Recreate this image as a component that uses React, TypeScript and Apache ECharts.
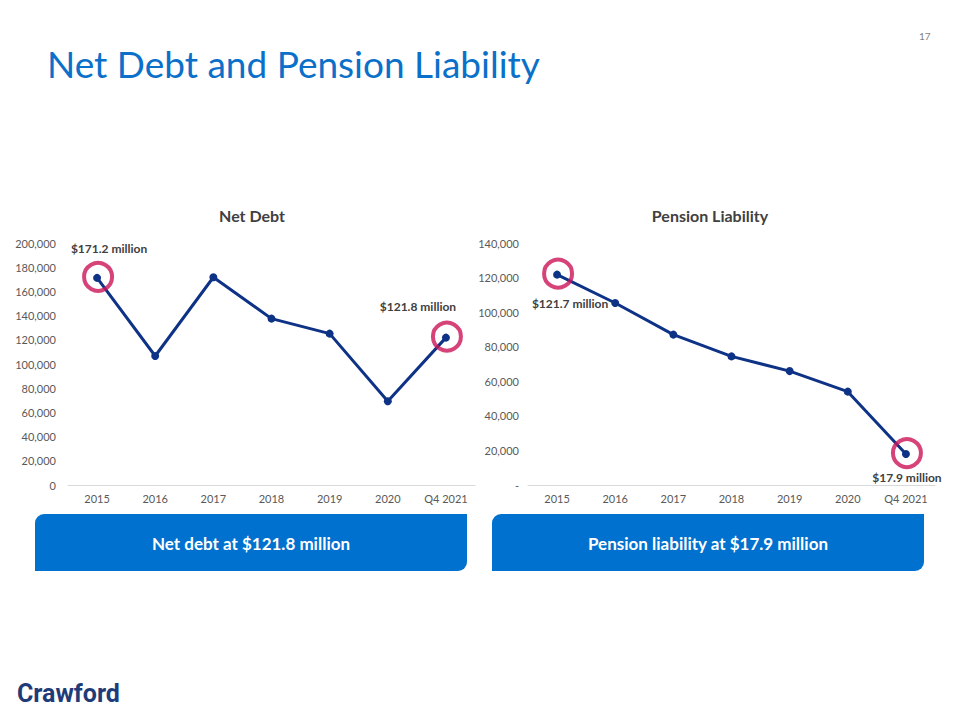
import React, { useEffect, useRef } from "react";
import * as echarts from "echarts";

// Fiscal periods shared by both panels
const periods = ["2015", "2016", "2017", "2018", "2019", "2020", "Q4 2021"];

// Net debt, USD thousands
const netDebt = [171200, 106600, 171700, 137500, 125100, 69200, 121800];

// Pension liability, USD thousands
const pension = [121700, 105300, 87000, 74400, 65900, 54000, 17900];

// Highlighted periods (indexes) with their callouts
const netDebtHighlights = [0, 6];
const pensionHighlights = [0, 6];

const netDebtTicks = { min: 0, max: 200000, interval: 20000 };
const pensionTicks = { min: 0, max: 140000, interval: 20000 };

const TEXT_FONT = "Lato, 'Open Sans', sans-serif";
const LINE_COLOR = "#0E3386";
const RING_COLOR = "#CC1458";
const LABEL_COLOR = "#404040";
const AXIS_TEXT = "#595959";
const BOX_COLOR = "#0071CE";

const money = (v: number) => `$${(v / 1000).toFixed(1)} million`;
const thousands = (v: number) => v.toLocaleString("en-US");

function labelFor(series: "debt" | "pension", idx: number) {
  const base = {
    show: true,
    fontFamily: TEXT_FONT,
    fontWeight: "bold" as const,
    fontSize: 12,
    color: LABEL_COLOR,
    formatter: (p: any) => money(p.value),
  };
  if (series === "debt") {
    return idx === 0
      ? { ...base, position: "top", offset: [12, -14] }
      : { ...base, position: "top", offset: [-28, -16] };
  }
  return idx === 0
    ? { ...base, position: "bottom", offset: [13, 14] }
    : { ...base, position: "bottom", offset: [1, 8] };
}

export default function App() {
  const ref = useRef<HTMLDivElement>(null);

  useEffect(() => {
    if (!ref.current) return;
    const chart = echarts.init(ref.current, null, { renderer: "svg" });

    const lineData = (vals: number[], hl: number[], kind: "debt" | "pension") =>
      vals.map((v, i) => (hl.includes(i) ? { value: v, label: labelFor(kind, i) } : v));

    const ringData = (vals: number[], hl: number[]) => hl.map((i) => [i, vals[i]]);

    const xAxisBase = {
      type: "category" as const,
      data: periods,
      boundaryGap: true,
      axisLine: { lineStyle: { color: "#D9D9D9", width: 1 } },
      axisTick: { show: false },
      axisLabel: { color: AXIS_TEXT, fontSize: 11, fontFamily: TEXT_FONT, margin: 8 },
    };

    const yAxisBase = {
      type: "value" as const,
      splitLine: { show: false },
      axisLine: { show: false },
      axisTick: { show: false },
    };

    const ringSeries = (axisIdx: number, data: number[][]) => ({
      type: "scatter",
      xAxisIndex: axisIdx,
      yAxisIndex: axisIdx,
      data,
      symbol: "circle",
      symbolSize: 28,
      symbolOffset: [1, -1],
      itemStyle: { color: "rgba(0,0,0,0)", borderColor: RING_COLOR, borderWidth: 4 },
      z: 5,
      silent: true,
    });

    const lineSeries = (axisIdx: number, data: any[]) => ({
      type: "line",
      xAxisIndex: axisIdx,
      yAxisIndex: axisIdx,
      data,
      symbol: "circle",
      symbolSize: 8,
      lineStyle: { color: LINE_COLOR, width: 3 },
      itemStyle: { color: LINE_COLOR },
      z: 4,
    });

    chart.setOption({
      animation: false,
      backgroundColor: "#ffffff",
      textStyle: { fontFamily: TEXT_FONT },
      grid: [
        { left: 68, width: 407, top: 243, height: 242 },
        { left: 528, width: 407, top: 243, height: 242 },
      ],
      xAxis: [
        { ...xAxisBase, gridIndex: 0 },
        { ...xAxisBase, gridIndex: 1 },
      ],
      yAxis: [
        {
          ...yAxisBase,
          gridIndex: 0,
          ...netDebtTicks,
          axisLabel: {
            color: AXIS_TEXT,
            fontSize: 11,
            fontFamily: TEXT_FONT,
            margin: 12,
            formatter: (v: number) => thousands(v),
          },
        },
        {
          ...yAxisBase,
          gridIndex: 1,
          ...pensionTicks,
          axisLabel: {
            color: AXIS_TEXT,
            fontSize: 11,
            fontFamily: TEXT_FONT,
            margin: 9,
            formatter: (v: number) => (v === 0 ? "-" : thousands(v)),
          },
        },
      ],
      series: [
        lineSeries(0, lineData(netDebt, netDebtHighlights, "debt")),
        ringSeries(0, ringData(netDebt, netDebtHighlights)),
        lineSeries(1, lineData(pension, pensionHighlights, "pension")),
        ringSeries(1, ringData(pension, pensionHighlights)),
      ],
      graphic: [
        {
          type: "text",
          left: 47,
          top: 45,
          style: {
            text: "Net Debt and Pension Liability",
            fill: "#0B70C9",
            font: `37px ${TEXT_FONT}`,
          },
        },
        {
          type: "text",
          left: 919,
          top: 31,
          style: { text: "17", fill: "#7F7F7F", font: `10px ${TEXT_FONT}` },
        },
        {
          type: "text",
          x: 252,
          y: 215,
          style: {
            text: "Net Debt",
            fill: LABEL_COLOR,
            font: `bold 16px ${TEXT_FONT}`,
            align: "center",
            verticalAlign: "middle",
          },
        },
        {
          type: "text",
          x: 710,
          y: 215,
          style: {
            text: "Pension Liability",
            fill: LABEL_COLOR,
            font: `bold 16px ${TEXT_FONT}`,
            align: "center",
            verticalAlign: "middle",
          },
        },
        {
          type: "rect",
          shape: { x: 35, y: 514, width: 432, height: 57, r: [9, 0, 9, 0] },
          style: { fill: BOX_COLOR },
        },
        {
          type: "text",
          x: 251,
          y: 543,
          style: {
            text: "Net debt at $121.8 million",
            fill: "#ffffff",
            font: `bold 17px ${TEXT_FONT}`,
            align: "center",
            verticalAlign: "middle",
          },
        },
        {
          type: "rect",
          shape: { x: 492, y: 514, width: 432, height: 57, r: [9, 0, 9, 0] },
          style: { fill: BOX_COLOR },
        },
        {
          type: "text",
          x: 708,
          y: 543,
          style: {
            text: "Pension liability at $17.9 million",
            fill: "#ffffff",
            font: `bold 17px ${TEXT_FONT}`,
            align: "center",
            verticalAlign: "middle",
          },
        },
        {
          type: "text",
          left: 17,
          top: 681,
          style: {
            text: "Crawford",
            fill: "#1F3C78",
            font: `bold 25px Roboto, 'DejaVu Sans', sans-serif`,
          },
        },
      ],
    });

    return () => chart.dispose();
  }, []);

  return (
    <div
      ref={ref}
      style={{ position: "fixed", left: 0, top: 0, width: 960, height: 720 }}
    />
  );
}
